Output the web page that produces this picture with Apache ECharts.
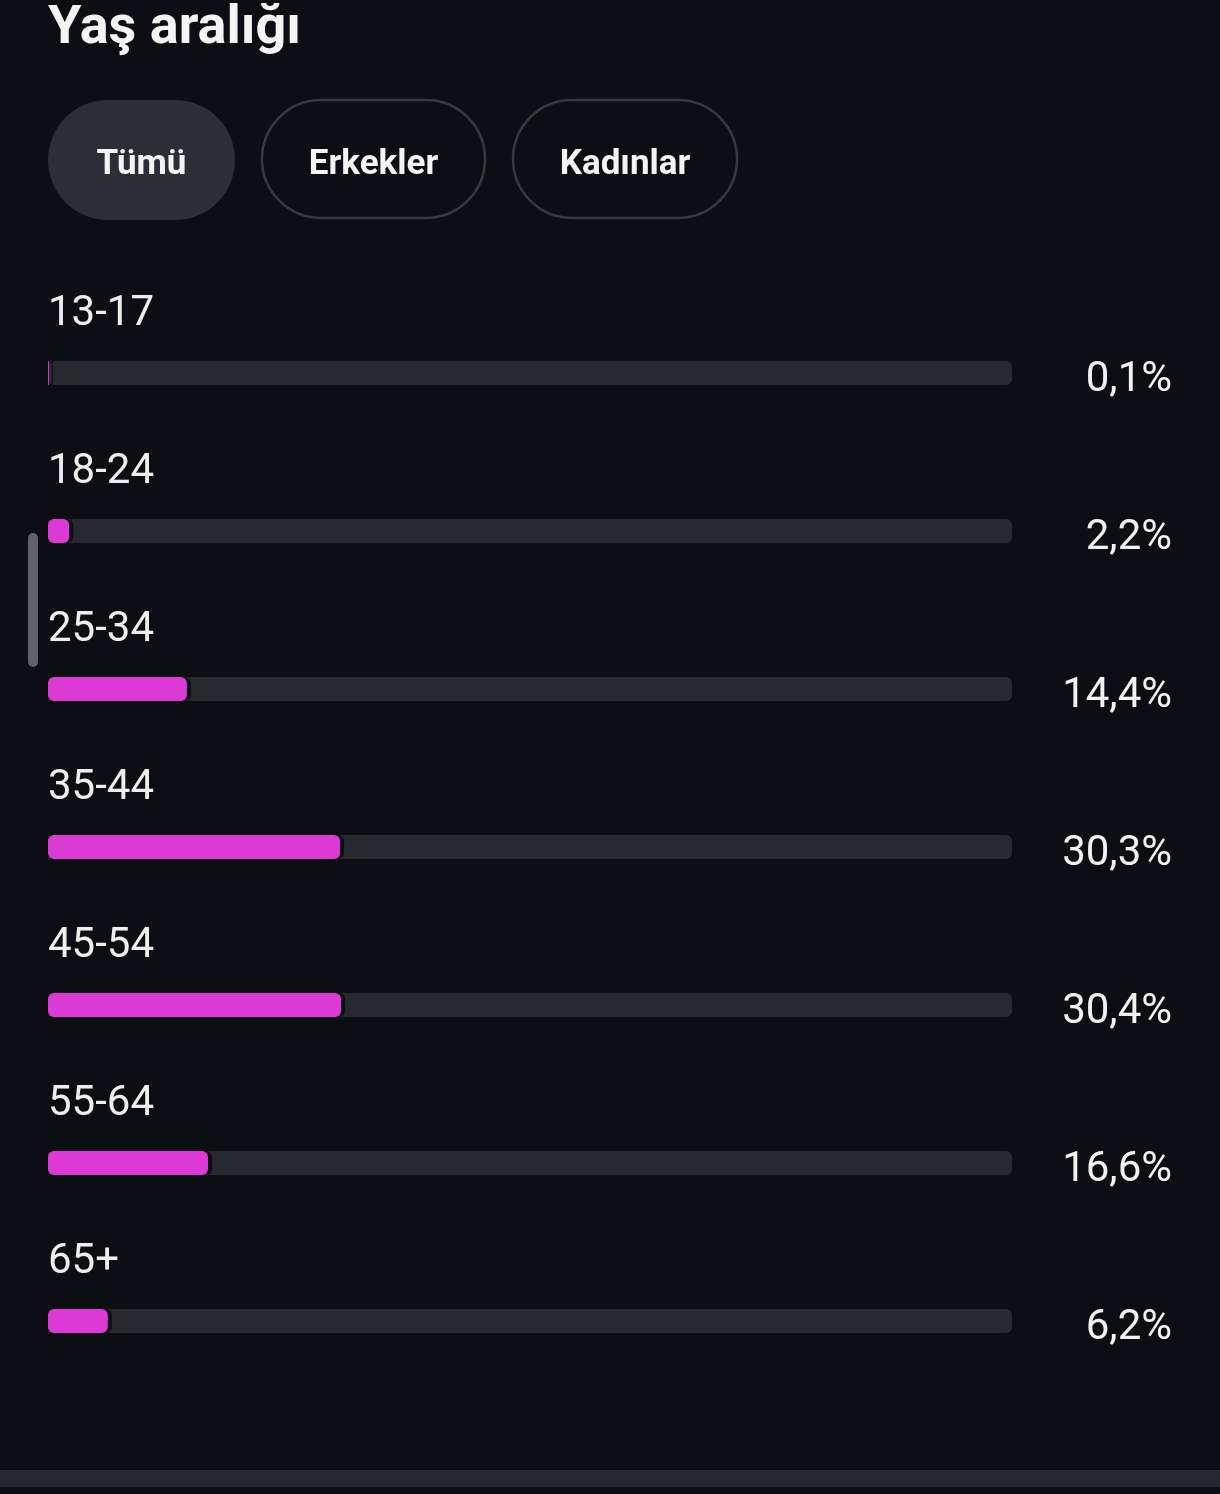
<!DOCTYPE html>
<html>
<head>
<meta charset="utf-8">
<script src="https://cdn.jsdelivr.net/npm/echarts@6/dist/echarts.min.js"></script>
<style>
html,body{margin:0;padding:0;background:#0c0e13;}
#c{width:1220px;height:1494px;}
</style>
</head>
<body>
<div id="c"></div>
<script>
const title = 'Yaş aralığı';
const tabs = ['Tümü', 'Erkekler', 'Kadınlar'];
const categories = ['13-17', '18-24', '25-34', '35-44', '45-54', '55-64', '65+'];
const values = [0.1, 2.2, 14.4, 30.3, 30.4, 16.6, 6.2];
const valueLabels = ['0,1%', '2,2%', '14,4%', '30,3%', '30,4%', '16,6%', '6,2%'];

const BG = '#0c0e13';
const chart = echarts.init(document.getElementById('c'), null, {renderer: 'canvas'});

const tabBoxes = [
  {x: 48, w: 187, filled: true},
  {x: 261, w: 225, filled: false},
  {x: 512, w: 226, filled: false}
];
const graphics = [
  {type: 'text', style: {text: title, x: 48, y: 29, fill: '#f4f4f4', font: 'bold 54px Roboto', textVerticalAlign: 'middle'}},
  {type: 'rect', shape: {x: 28, y: 533, width: 10, height: 134, r: 5}, style: {fill: '#5e6166'}},
  {type: 'rect', shape: {x: 0, y: 1470, width: 1220, height: 17}, style: {fill: '#24272c'}}
];
tabs.forEach((t, i) => {
  const b = tabBoxes[i];
  graphics.push({
    type: 'rect',
    shape: {x: b.x + (b.filled ? 0 : 1), y: 100, width: b.w - (b.filled ? 0 : 2), height: b.filled ? 120 : 118, r: 60},
    style: b.filled ? {fill: '#2b2e34'} : {fill: 'transparent', stroke: '#36393e', lineWidth: 2.5}
  });
  graphics.push({
    type: 'text',
    style: {text: t, x: b.x + b.w / 2, y: 165, fill: '#f4f4f4', font: 'bold 35px Roboto', textAlign: 'center', textVerticalAlign: 'middle'}
  });
});

chart.setOption({
  backgroundColor: BG,
  animation: false,
  grid: {left: 48, right: 208, top: 294, height: 1106},
  xAxis: {type: 'value', min: 0, max: 100, show: false},
  yAxis: {type: 'category', data: categories, inverse: true, show: false},
  graphic: graphics,
  series: [
    {
      type: 'bar',
      silent: true,
      barWidth: 24,
      barGap: '-100%',
      data: categories.map(() => 100),
      itemStyle: {color: '#26292e', borderRadius: 6},
      label: {
        show: true,
        position: [0, -47],
        align: 'left',
        verticalAlign: 'middle',
        formatter: p => categories[p.dataIndex],
        color: '#eeeeee',
        fontFamily: 'Roboto',
        fontSize: 42
      },
      z: 1
    },
    {
      type: 'bar',
      silent: true,
      barWidth: 24,
      data: values,
      itemStyle: {color: '#dc3ad5', borderRadius: 6, shadowColor: BG, shadowBlur: 0.5, shadowOffsetX: 4},
      label: {show: false},
      z: 2
    },
    {
      type: 'bar',
      silent: true,
      barWidth: 24,
      data: categories.map(() => 100),
      itemStyle: {color: 'transparent'},
      label: {
        show: true,
        position: [1124, 19],
        align: 'right',
        verticalAlign: 'middle',
        formatter: p => valueLabels[p.dataIndex],
        color: '#f2f2f2',
        fontFamily: 'Roboto',
        fontSize: 42
      },
      z: 3
    }
  ]
});
</script>
</body>
</html>
